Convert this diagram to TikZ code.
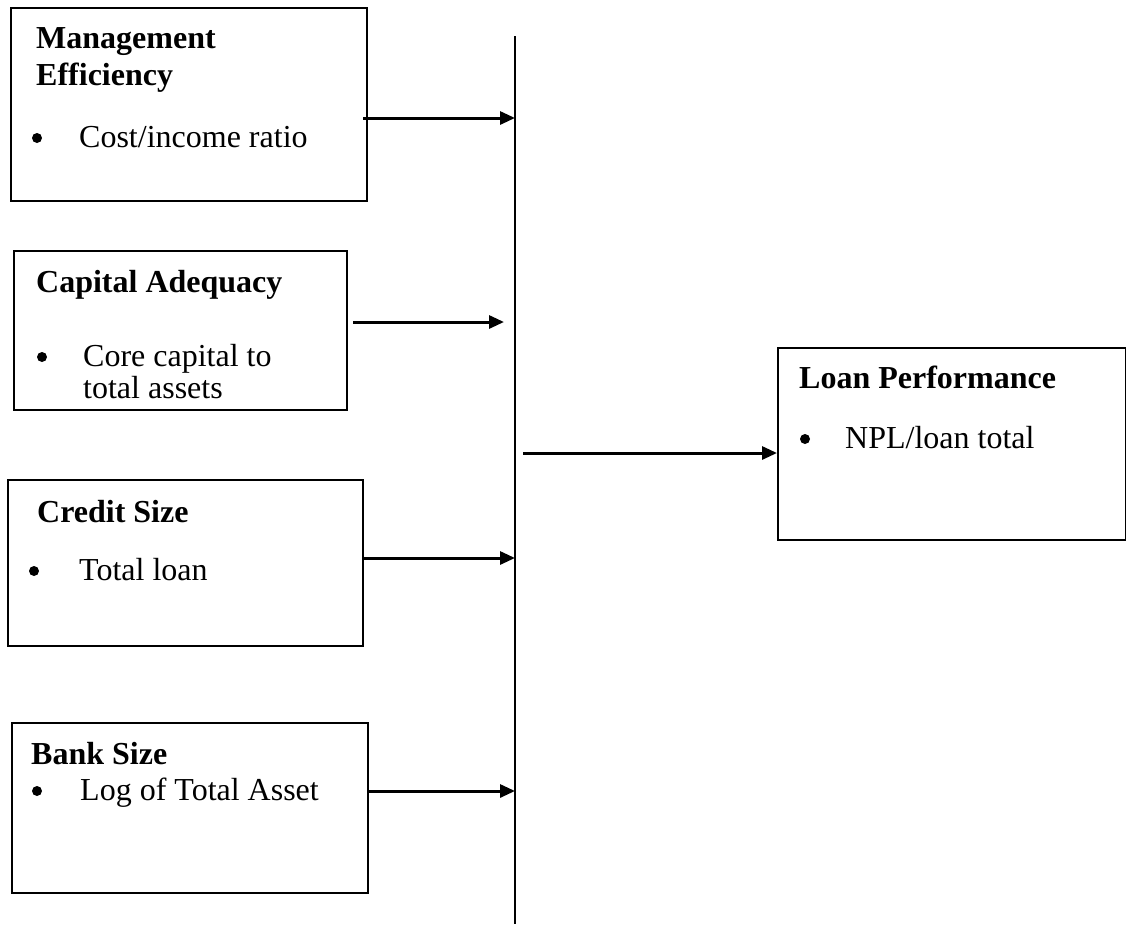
\documentclass[tikz,border=0pt]{standalone}
\usepackage{fontspec}
\setmainfont{Liberation Serif}
\usetikzlibrary{arrows.meta,calc}
\begin{document}
\begin{tikzpicture}[x=1pt,y=-1pt,
  box/.style={draw=black,line width=2.8pt},
  txt/.style={anchor=base west,inner sep=0pt,font=\fontsize{32}{37}\selectfont},
  head/.style={txt,font=\fontsize{32}{37}\selectfont\bfseries},
  conn/.style={line width=3pt,-{Triangle[length=15pt,width=13pt]}},
  bul/.style={circle,fill=black,inner sep=0pt,minimum size=10pt}]
\useasboundingbox (0,0) rectangle (1126,924);
% boxes
\draw[box] (11,8) rectangle (367,201) coordinate (me);
\draw[box] (14,251) rectangle (347,410) coordinate (ca);
\draw[box] (8,480) rectangle (363,646) coordinate (cs);
\draw[box] (12,723) rectangle (368,893) coordinate (bs);
\draw[box] (778,348) rectangle (1126,540) coordinate (lp);
% texts
\node[head] (t1) at (36,48) {Management};
\node[head] (t2) at (36,85) {Efficiency};
\node[bul] (b1) at (37,138) {};
\node[txt] (t3) at (79,147) {Cost/income ratio};
\node[head] (t4) at (36,292) {Capital Adequacy};
\node[bul] (b2) at (42,357) {};
\node[txt] (t5) at (83,366) {Core capital to};
\node[txt] (t6) at (83,398) {total assets};
\node[head] (t7) at (37,522) {Credit Size};
\node[bul] (b3) at (34,571) {};
\node[txt] (t8) at (79,580) {Total loan};
\node[head] (t9) at (31,764) {Bank Size};
\node[bul] (b4) at (37,791) {};
\node[txt] (t10) at (80,800) {Log of Total Asset};
\node[head] (t11) at (799,388) {Loan Performance};
\node[bul] (b5) at (805,439) {};
\node[txt] (t12) at (845,448) {NPL/loan total};
% vertical line
\coordinate (vtop) at (515,36);
\coordinate (vbot) at (515,924);
\draw[line width=2.5pt] (vtop) -- (vbot);
% arrows
\coordinate (s1) at (363,118); \coordinate (e1) at (515,118);
\coordinate (s2) at (353,322); \coordinate (e2) at (504,322);
\coordinate (s3) at (523,453); \coordinate (e3) at (777,453);
\coordinate (s4) at (363,558); \coordinate (e4) at (515,558);
\coordinate (s5) at (368,791); \coordinate (e5) at (515,791);
\draw[conn] (s1) -- (e1);
\draw[conn] (s2) -- (e2);
\draw[conn] (s3) -- (e3);
\draw[conn] (s4) -- (e4);
\draw[conn] (s5) -- (e5);
\end{tikzpicture}
\end{document}
